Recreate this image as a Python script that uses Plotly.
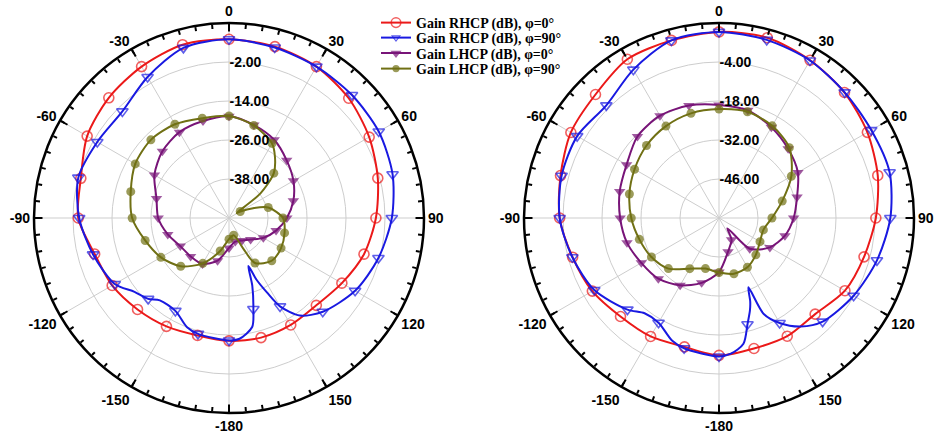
import plotly.graph_objects as go

# ---------------- data (dB) ----------------
THETA15 = [-165, -150, -135, -120, -105, -90, -75, -60, -45, -30, -15, 0,
           15, 30, 45, 60, 75, 90, 105, 120, 135, 150, 165, 180]

# left pattern
L_RHCP0 = [-12.6, -11.5, -10.2, -8.5, -7.2, -3.6, -2.8, 0.4, 2.3, 3.8, 5.2, 5.0,
           4.6, 3.8, 2.1, -0.2, -2.6, -4.8, -7.0, -9.9, -12.0, -12.0, -11.9, -12.2]
L_RHCP90 = [-13.1, -17.0, -14.8, -9.4, -6.7, -3.9, -2.0, -3.2, -3.6, 0.1, 4.2, 5.0,
            4.3, 3.8, 3.5, 3.2, 2.1, 0.1, -2.4, -5.2, -9.2, -18.6, -21.0, -12.3]
L_RHCP90_XT = [144, 153, 156, 158, 161, 168, 175, -159, -140, -128]
L_RHCP90_XR = [-12.9, -24.3, -29.3, -34.1, -28.0, -15.7, -12.7, -14.0, -16.9, -13.1]
L_LHCP0 = [-36.4, -33.7, -33.3, -32.7, -30.5, -28.2, -26.9, -23.5, -21.0, -19.5, -19.1, -18.7,
           -20.4, -22.2, -24.9, -27.1, -29.5, -32.2, -35.0, -37.8, -40.6, -42.0, -42.5, -40.8]
L_LHCP90 = [-39.5, -33.9, -29.0, -25.8, -23.3, -20.2, -18.7, -16.7, -16.0, -16.7, -18.2, -18.6,
            -20.5, -23.5, -30.5, -46.0, -37.5, -33.4, -32.3, -31.5, -31.4, -34.0, -44.5, -43.5]
L_LHCP90_XT = [37, 52, 57, 68, 155]
L_LHCP90_XR = [-26.5, -37.8, -47.2, -42.0, -39.5]

# right pattern
R_RHCP0 = [-12.1, -10.9, -10.0, -7.5, -5.6, -2.8, -1.1, 1.4, 2.7, 5.8, 6.0, 6.8,
           7.0, 5.4, 3.7, 1.5, -1.0, -3.7, -6.1, -7.8, -11.2, -11.0, -11.5, -10.7]
R_RHCP90 = [-11.6, -16.6, -13.5, -8.3, -5.5, -2.8, -1.5, -1.2, -2.8, 1.5, 6.0, 6.8,
            6.2, 5.3, 3.8, 3.1, 3.4, 1.5, -1.3, -4.2, -7.4, -16.5, -20.5, -10.3]
R_RHCP90_XT = [143, 155, 157, 159.5, 161.5, 169, 175, -159, -142]
R_RHCP90_XR = [-11.2, -22.0, -33.0, -28.0, -25.0, -14.0, -11.1, -12.9, -16.6]
R_LHCP0 = [-35.9, -32.1, -29.2, -27.8, -25.8, -24.5, -23.1, -21.7, -18.6, -17.6, -18.2, -19.4,
           -20.0, -22.4, -24.9, -27.3, -31.0, -33.2, -35.5, -38.9, -44.4, -51.0, -47.5, -40.6]
R_LHCP0_XT = [141]
R_LHCP0_XR = [-55.2]
R_LHCP90 = [-41.2, -39.0, -34.3, -32.0, -30.4, -28.5, -26.7, -25.0, -23.2, -21.9, -21.1, -20.9,
            -20.5, -21.8, -24.3, -30.0, -36.5, -41.0, -43.5, -43.0, -41.3, -39.6, -39.3, -40.4]

NAMES = ["Gain RHCP (dB), φ=0°", "Gain RHCP (dB), φ=90°",
         "Gain LHCP (dB), φ=0°", "Gain LHCP (dB), φ=90°"]
L_TICKS = [-38, -26, -14, -2]
R_TICKS = [-46, -32, -18, -4]
L_RANGE = [-50, 10]
R_RANGE = [-60, 10]

# ---------------- styling ----------------
W, H = 934, 441
STYLES = [
    dict(color="rgb(235,25,25)", symbol="circle-open", size=10, mlw=1.6),
    dict(color="rgb(25,25,225)", symbol="triangle-down-open", size=10, mlw=1.6),
    dict(color="rgb(120,20,120)", symbol="triangle-down", size=10, mlw=0),
    dict(color="rgb(112,112,20)", symbol="circle", size=9, mlw=0),
]
TICKFONT = dict(family="Liberation Sans, Arial", size=14, color="black", weight="bold")
LEGFONT = dict(family="Liberation Serif, Times New Roman", size=14, color="black", weight="bold")
GRID = "rgb(205,205,205)"

fig = go.Figure()


def series(theta, r, xt=None, xr=None):
    pts = [(t, v, True) for t, v in zip(theta, r)]
    if xt:
        pts += [(t, v, False) for t, v in zip(xt, xr)]
    pts.sort(key=lambda p: p[0])
    first = pts[0]
    pts.append((first[0] + 360, first[1], False))   # close the loop
    return [p[0] for p in pts], [p[1] for p in pts], [p[2] for p in pts]


def add_spokes(sub, rng):
    th, rr = [], []
    for a in range(0, 360, 30):
        th += [a, a, None]
        rr += [rng[0], rng[1], None]
    fig.add_trace(go.Scatterpolar(theta=th, r=rr, mode="lines", subplot=sub,
                                  line=dict(color=GRID, width=1), showlegend=False,
                                  hoverinfo="skip"))


def add_series(sub, idx, theta, r, xt=None, xr=None, show=False):
    st = STYLES[idx]
    th, rr, mk = series(theta, r, xt, xr)
    fig.add_trace(go.Scatterpolar(
        theta=th, r=rr, mode="lines+markers", subplot=sub, name=NAMES[idx],
        line=dict(color=st["color"], width=2, shape="spline", smoothing=0.8),
        marker=dict(symbol=st["symbol"], color=st["color"],
                    size=[st["size"] if m else 0 for m in mk],
                    line=dict(color=st["color"], width=[st["mlw"] if m else 0 for m in mk])),
        showlegend=show, legend=("legend" if idx == 0 else "legend%d" % (idx + 1))))


add_spokes("polar", L_RANGE)
add_spokes("polar2", R_RANGE)

add_series("polar", 0, THETA15, L_RHCP0, show=True)
add_series("polar", 1, THETA15, L_RHCP90, L_RHCP90_XT, L_RHCP90_XR, show=True)
add_series("polar", 2, THETA15, L_LHCP0, show=True)
add_series("polar", 3, THETA15, L_LHCP90, L_LHCP90_XT, L_LHCP90_XR, show=True)

add_series("polar2", 0, THETA15, R_RHCP0)
add_series("polar2", 1, THETA15, R_RHCP90, R_RHCP90_XT, R_RHCP90_XR)
add_series("polar2", 2, THETA15, R_LHCP0, R_LHCP0_XT, R_LHCP0_XR)
add_series("polar2", 3, THETA15, R_LHCP90)

# empty traces so the overlay subplots (major ticks) are drawn
for sub in ("polar3", "polar4"):
    fig.add_trace(go.Scatterpolar(theta=[], r=[], subplot=sub, showlegend=False,
                                  hoverinfo="skip"))


def ang_label(v):
    if v % 30:
        return ""
    return str(v) if v <= 150 else str(v - 360)


TV = list(range(0, 360, 5))
TT = [ang_label(v) for v in TV]
TV30 = list(range(0, 360, 30))


def dom(cx, cy, rad):
    return dict(x=[(cx - rad) / W, (cx + rad) / W],
                y=[(H - cy - rad) / H, (H - cy + rad) / H])


def polar_cfg(cx, cy, rad, rng, ticks):
    return dict(
        domain=dom(cx, cy, rad),
        bgcolor="white",
        angularaxis=dict(rotation=90, direction="clockwise", tickvals=TV, ticktext=TT,
                         ticks="inside", ticklen=4, tickwidth=1.5, tickcolor="black",
                         showline=True, linecolor="black", linewidth=2.5,
                         showgrid=False, tickfont=TICKFONT),
        radialaxis=dict(range=rng, angle=90, tickangle=90, tickvals=ticks,
                        ticktext=["%.2f" % t for t in ticks], showline=False, ticks="",
                        showgrid=True, gridcolor=GRID, gridwidth=1, tickfont=TICKFONT),
    )


def overlay_cfg(cx, cy, rad, rng):
    return dict(
        domain=dom(cx, cy, rad),
        bgcolor="rgba(0,0,0,0)",
        angularaxis=dict(rotation=90, direction="clockwise", tickvals=TV30,
                         ticks="inside", ticklen=8, tickwidth=1.5, tickcolor="black",
                         showticklabels=False, showline=False, showgrid=False),
        radialaxis=dict(range=rng, visible=False, showgrid=False),
    )


RAD = 195
layout = dict(
    width=W, height=H, margin=dict(l=0, r=0, t=0, b=0),
    paper_bgcolor="white", plot_bgcolor="white",
    polar=polar_cfg(229, 218, RAD, L_RANGE, L_TICKS),
    polar2=polar_cfg(719, 218, RAD, R_RANGE, R_TICKS),
    polar3=overlay_cfg(229, 218, RAD, L_RANGE),
    polar4=overlay_cfg(719, 218, RAD, R_RANGE),
)
ROWS = [23, 38, 53.5, 69]
for i, row in enumerate(ROWS):
    key = "legend" if i == 0 else "legend%d" % (i + 1)
    layout[key] = dict(x=376 / W, xanchor="left", y=1 - row / H, yanchor="middle",
                       bgcolor="rgba(0,0,0,0)", font=LEGFONT, itemwidth=30,
                       borderwidth=0)
fig.update_layout(**layout)
fig.write_html("out.html")
